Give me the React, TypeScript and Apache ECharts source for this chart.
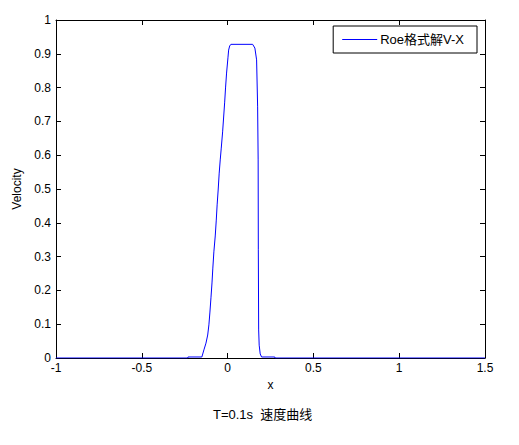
import React, { useEffect, useRef } from "react";
import * as echarts from "echarts";

const xValues = [
  -1, -0.232, -0.231, -0.15, -0.138, -0.126, -0.116, -0.109, -0.103, -0.097, -0.091, -0.086, -0.08,
  -0.072, -0.066, -0.061, -0.055, -0.049, -0.043, -0.037, -0.029, -0.023, -0.017, -0.012, -0.006,
  0.002, 0.006, 0.012, 0.019, 0.146, 0.159, 0.169, 0.175, 0.178, 0.179, 0.181, 0.184, 0.19, 0.198,
  0.275, 0.276, 1.5,
];
const velocity = [
  0, 0, 0.003, 0.003, 0.024, 0.044, 0.068, 0.098, 0.136, 0.178, 0.222, 0.266, 0.314,
  0.361, 0.408, 0.453, 0.497, 0.547, 0.586, 0.621, 0.669, 0.713, 0.757, 0.799, 0.843,
  0.888, 0.911, 0.923, 0.928, 0.928, 0.917, 0.882, 0.743, 0.586, 0.32, 0.083, 0.038, 0.012, 0.003,
  0.003, 0, 0,
];
const seriesName = "Roe格式解V-X";
const xAxisName = "x";
const yAxisName = "Velocity";
const titleText = "T=0.1s  速度曲线";

const FONT = "'Liberation Sans', Arial, 'Noto Sans CJK SC', sans-serif";

export default function App() {
  const ref = useRef<HTMLDivElement>(null);
  useEffect(() => {
    if (!ref.current) return;
    const chart = echarts.init(ref.current, null, { renderer: "svg" });
    const data = xValues.map((x, i) => [x, velocity[i]]);
    const grid = { left: 56, right: 34, top: 20, bottom: 87 };
    const axisLine = { show: true, onZero: false, lineStyle: { color: "#000", width: 1 } };
    const axisTick = { show: true, inside: true, length: 5, lineStyle: { color: "#000" } };
    chart.setOption({
      animation: false,
      backgroundColor: "#fff",
      textStyle: { fontFamily: FONT },
      title: {
        text: titleText,
        left: 208,
        top: 403,
        textStyle: { fontSize: 13, fontWeight: "normal", color: "#000", fontFamily: FONT },
      },
      legend: {
        data: [seriesName],
        right: 42,
        top: 26,
        orient: "horizontal",
        backgroundColor: "#fff",
        borderColor: "#000",
        borderWidth: 1,
        borderRadius: 0,
        padding: [7, 13, 7, 9],
        icon: "rect",
        itemWidth: 35,
        itemHeight: 1,
        itemGap: 0,
        textStyle: { fontSize: 13, color: "#000", fontFamily: FONT, padding: [0, 0, 0, -2] },
      },
      grid,
      xAxis: [
        {
          type: "value",
          min: -1,
          max: 1.5,
          interval: 0.5,
          name: xAxisName,
          nameLocation: "middle",
          nameGap: 21,
          nameTextStyle: { fontSize: 12, color: "#000", fontFamily: FONT },
          axisLine,
          axisTick,
          splitLine: { show: false },
          axisLabel: { color: "#000", fontSize: 12, margin: 4, fontFamily: FONT },
        },
        {
          type: "value",
          position: "top",
          min: -1,
          max: 1.5,
          interval: 0.5,
          axisLine,
          axisTick,
          splitLine: { show: false },
          axisLabel: { show: false },
        },
      ],
      yAxis: [
        {
          type: "value",
          min: 0,
          max: 1,
          interval: 0.1,
          name: yAxisName,
          nameLocation: "middle",
          nameGap: 33,
          nameTextStyle: { fontSize: 12, color: "#000", fontFamily: FONT },
          axisLine,
          axisTick,
          splitLine: { show: false },
          axisLabel: { color: "#000", fontSize: 12, margin: 5, fontFamily: FONT },
        },
        {
          type: "value",
          position: "right",
          min: 0,
          max: 1,
          interval: 0.1,
          axisLine,
          axisTick,
          splitLine: { show: false },
          axisLabel: { show: false },
        },
      ],
      series: [
        {
          name: seriesName,
          type: "line",
          data,
          showSymbol: false,
          symbol: "none",
          color: "#0000ff",
          lineStyle: { color: "#0000ff", width: 1 },
          z: 5,
        },
      ],
    });
    return () => chart.dispose();
  }, []);
  return (
    <div
      ref={ref}
      style={{ position: "fixed", left: 0, top: 0, width: 519, height: 445, background: "#fff" }}
    />
  );
}
